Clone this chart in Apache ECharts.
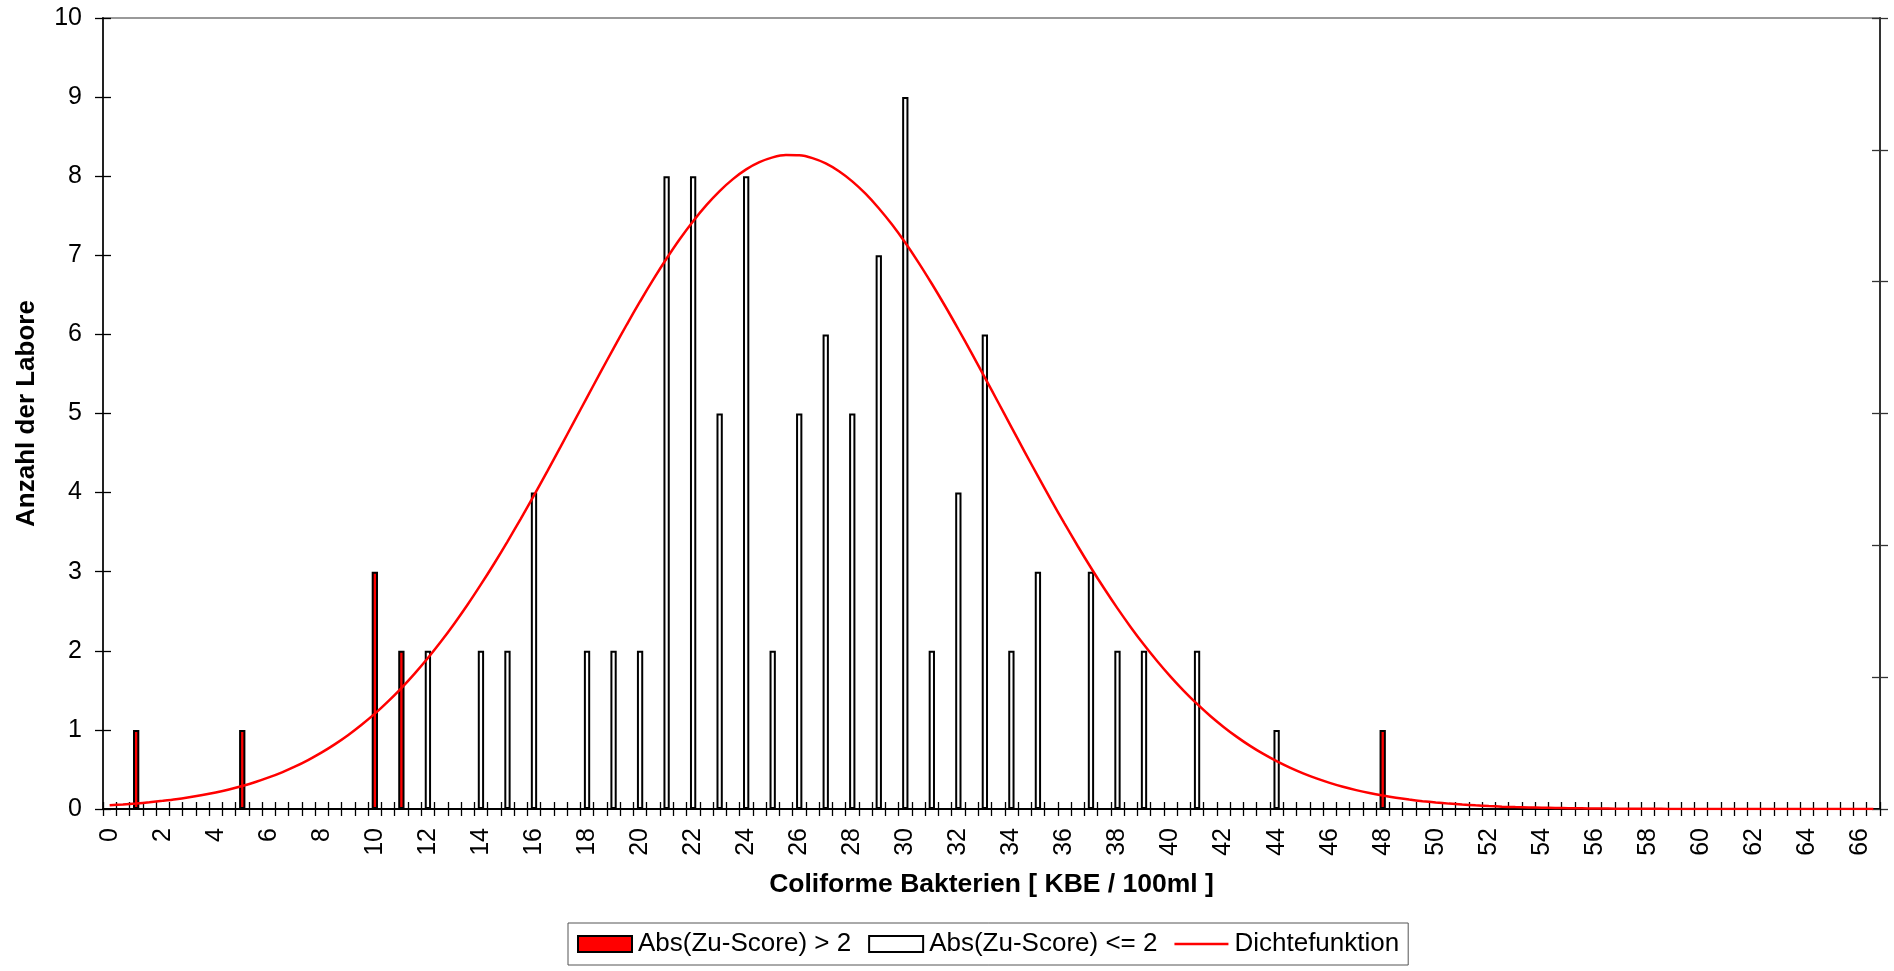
<!DOCTYPE html>
<html>
<head>
<meta charset="utf-8">
<script src="https://cdn.jsdelivr.net/npm/echarts@6/dist/echarts.min.js"></script>
<style>
html,body{margin:0;padding:0;background:#fff;}
#chart{width:1894px;height:971px;}
</style>
</head>
<body>
<div id="chart"></div>
<script>
// Categories: half-unit steps of KBE / 100ml
const categories = ["0","0.5","1","1.5","2","2.5","3","3.5","4","4.5","5","5.5","6","6.5","7","7.5","8","8.5","9","9.5",
"10","10.5","11","11.5","12","12.5","13","13.5","14","14.5","15","15.5","16","16.5","17","17.5","18","18.5","19","19.5",
"20","20.5","21","21.5","22","22.5","23","23.5","24","24.5","25","25.5","26","26.5","27","27.5","28","28.5","29","29.5",
"30","30.5","31","31.5","32","32.5","33","33.5","34","34.5","35","35.5","36","36.5","37","37.5","38","38.5","39","39.5",
"40","40.5","41","41.5","42","42.5","43","43.5","44","44.5","45","45.5","46","46.5","47","47.5","48","48.5","49","49.5",
"50","50.5","51","51.5","52","52.5","53","53.5","54","54.5","55","55.5","56","56.5","57","57.5","58","58.5","59","59.5",
"60","60.5","61","61.5","62","62.5","63","63.5","64","64.5","65","65.5","66","66.5"];

// Abs(Zu-Score) > 2
const redBins   = ["1","5","10","11","48"];
const redCounts = [1, 1, 3, 2, 1];

// Abs(Zu-Score) <= 2
const whiteBins   = ["12","14","15","16","18","19","20","21","22","23","24","25","26","27","28","29","30","31","32","33","34","35","37","38","39","41","44"];
const whiteCounts = [2, 2, 2, 4, 2, 2, 2, 8, 8, 5, 8, 2, 5, 6, 5, 7, 9, 2, 4, 6, 2, 3, 3, 2, 2, 2, 1];

// Dichtefunktion (one value per category)
const density = [0.047,0.058,0.070,0.085,0.103,0.123,0.148,0.176,0.209,0.247,
0.291,0.341,0.399,0.464,0.538,0.622,0.715,0.820,0.936,1.065,
1.205,1.360,1.529,1.712,1.909,2.120,2.346,2.585,2.839,3.104,
3.381,3.669,3.965,4.269,4.578,4.891,5.204,5.516,5.824,6.125,
6.416,6.695,6.959,7.206,7.431,7.634,7.812,7.963,8.086,8.177,
8.238,8.267,8.264,8.229,8.162,8.063,7.935,7.779,7.595,7.388,
7.158,6.908,6.640,6.359,6.065,5.763,5.454,5.142,4.828,4.516,
4.208,3.905,3.611,3.325,3.050,2.787,2.536,2.299,2.076,1.868,
1.674,1.494,1.328,1.176,1.038,0.912,0.798,0.696,0.605,0.523,
0.451,0.387,0.331,0.281,0.239,0.202,0.170,0.142,0.119,0.099,
0.082,0.068,0.056,0.046,0.037,0.030,0.024,0.020,0.016,0.013,
0.010,0.008,0.006,0.005,0.004,0.003,0.002,0.002,0.001,0.001,
0.001,0.001,0,0,0,0,0,0,0,0,0,0,0,0];

const yTicks = {min: 0, max: 10, interval: 1};
const FONT = '"Liberation Sans", Arial, sans-serif';

const redData = redBins.map((b, i) => [b, redCounts[i]]);
const whiteData = whiteBins.map((b, i) => [b, whiteCounts[i]]);

const chart = echarts.init(document.getElementById('chart'), null, {renderer: 'canvas'});

const hiddenCat = {
  type: 'category', data: categories, position: 'bottom', boundaryGap: true,
  axisLine: {show: false}, axisLabel: {show: false}, splitLine: {show: false},
  axisTick: {show: true, inside: true, length: 7, interval: 0, lineStyle: {color: '#000', width: 1.3}}
};

chart.setOption({
  animation: false,
  backgroundColor: '#fff',
  textStyle: {fontFamily: FONT},
  grid: {left: 103, right: 14, top: 18, bottom: 162, show: true, borderColor: '#999', borderWidth: 2, backgroundColor: 'transparent'},
  legend: {
    left: 568, top: 923,
    padding: [8, 9, 8, 9],
    itemGap: 17,
    itemWidth: 54, itemHeight: 16,
    symbolKeepAspect: true,
    borderColor: '#555', borderWidth: 1,
    textStyle: {fontFamily: FONT, fontSize: 26, color: '#000', padding: [0, 0, 0, 1]},
    data: [
      {name: 'Abs(Zu-Score) > 2', icon: 'rect', itemStyle: {color: '#ff0000', borderColor: '#000', borderWidth: 2}},
      {name: 'Abs(Zu-Score) <= 2', icon: 'rect', itemStyle: {color: '#fff', borderColor: '#000', borderWidth: 2}},
      {name: 'Dichtefunktion', icon: 'path://M0,0 L54,0 L54,2.5 L0,2.5 Z', itemStyle: {color: '#ff0000', borderWidth: 0}}
    ]
  },
  xAxis: [
    {
      type: 'category', data: categories, position: 'bottom', boundaryGap: true,
      name: 'Coliforme Bakterien [ KBE / 100ml ]',
      nameLocation: 'middle', nameGap: 62,
      nameTextStyle: {fontFamily: FONT, fontSize: 26.5, fontWeight: 'bold', color: '#000'},
      axisLine: {show: true, onZero: false, lineStyle: {color: '#000', width: 2}},
      axisTick: {show: true, inside: false, length: 7, interval: 0, lineStyle: {color: '#000', width: 1.3}},
      axisLabel: {interval: 3, rotate: 90, margin: 19, fontSize: 25, color: '#000', fontFamily: FONT},
      splitLine: {show: false}
    },
    hiddenCat
  ],
  yAxis: [
    {
      type: 'value', position: 'left', min: yTicks.min, max: yTicks.max, interval: yTicks.interval,
      name: 'Anzahl der Labore', nameLocation: 'middle', nameGap: 63, nameRotate: 90,
      nameTextStyle: {fontFamily: FONT, fontSize: 26, fontWeight: 'bold', color: '#000'},
      axisLine: {show: true, lineStyle: {color: '#222', width: 2}},
      axisTick: {show: true, inside: false, length: 8, lineStyle: {color: '#000', width: 1.3}},
      axisLabel: {margin: 21, fontSize: 25, color: '#000', fontFamily: FONT},
      splitLine: {show: false}
    },
    {
      type: 'value', position: 'left', min: yTicks.min, max: yTicks.max, interval: yTicks.interval,
      axisLine: {show: false}, axisLabel: {show: false}, splitLine: {show: false},
      axisTick: {show: true, inside: true, length: 8, lineStyle: {color: '#000', width: 1.3}}
    },
    {
      type: 'value', position: 'right', min: 0, max: 6, interval: 1,
      axisLine: {show: true, lineStyle: {color: '#333', width: 2}}, axisLabel: {show: false}, splitLine: {show: false},
      axisTick: {show: true, inside: false, length: 8, lineStyle: {color: '#333', width: 1.3}}
    },
    {
      type: 'value', position: 'right', min: 0, max: 6, interval: 1,
      axisLine: {show: false}, axisLabel: {show: false}, splitLine: {show: false},
      axisTick: {show: true, inside: true, length: 8, lineStyle: {color: '#333', width: 1.3}}
    }
  ],
  series: [
    {
      name: 'Abs(Zu-Score) > 2', type: 'bar', xAxisIndex: 0, yAxisIndex: 0,
      data: redData, barWidth: 6.3, barGap: '-100%',
      itemStyle: {color: '#ff0000', borderColor: '#000', borderWidth: 2},
      z: 2
    },
    {
      name: 'Abs(Zu-Score) <= 2', type: 'bar', xAxisIndex: 0, yAxisIndex: 0,
      data: whiteData, barWidth: 6.3, barGap: '-100%',
      itemStyle: {color: '#fff', borderColor: '#000', borderWidth: 2},
      z: 2
    },
    {
      name: 'Dichtefunktion', type: 'line', xAxisIndex: 0, yAxisIndex: 0,
      data: density, smooth: 0.3, symbol: 'none', showSymbol: false,
      lineStyle: {color: '#ff0000', width: 2.5},
      itemStyle: {color: '#ff0000'},
      z: 3
    }
  ]
});
</script>
</body>
</html>
